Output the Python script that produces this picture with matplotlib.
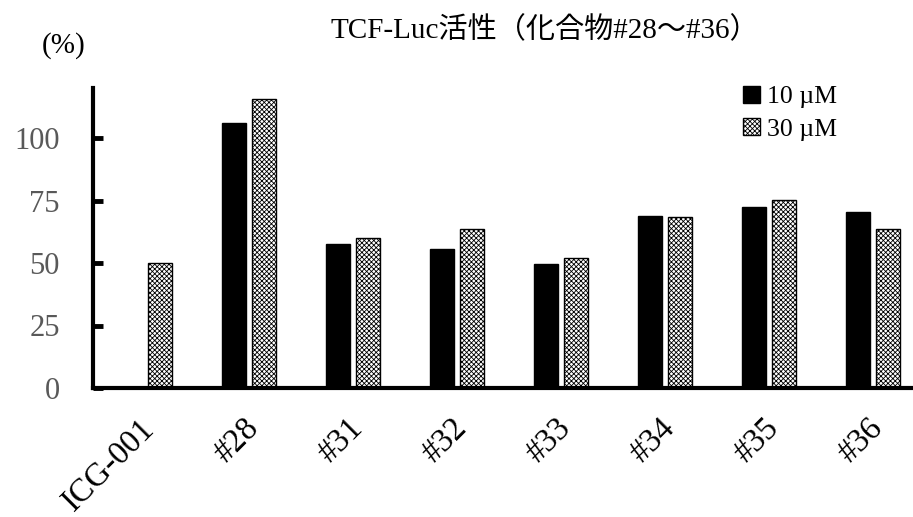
import matplotlib.pyplot as plt
import matplotlib as mpl
import matplotlib.transforms as mtransforms
import numpy as np

mpl.rcParams['hatch.linewidth'] = 0.6

categories = ['ICG-001', '#28', '#31', '#32', '#33', '#34', '#35', '#36']
vals_10 = [0, 106, 57.8, 55.8, 49.8, 68.7, 72.3, 70.3]
vals_30 = [50, 115.7, 60.2, 63.5, 52.2, 68.3, 75.1, 63.5]
yticks = [0, 25, 50, 75, 100]

serif = ['Liberation Serif', 'Noto Sans CJK JP', 'DejaVu Sans']

fig = plt.figure(figsize=(9.13, 5.17), dpi=100)
ax = fig.add_axes([93 / 913, 1 - 388 / 517, 832 / 913, 300 / 517])

x = np.arange(len(categories))
w = 0.235
off = 0.145
b10 = ax.bar(x - off, vals_10, w, color='black', edgecolor='black', linewidth=1, label='10 µM')
b30 = ax.bar(x + off, vals_30, w, color='white', edgecolor='black', hatch='xxxxxxx', linewidth=1, label='30 µM')

ax.set_xlim(-0.5, 7.5)
ax.set_ylim(0, 120)
ax.set_yticks(yticks)
ax.set_yticklabels([str(t) for t in yticks], family=serif, fontsize=22, color='#595959')
ax.tick_params(axis='y', direction='in', length=7, width=3.5, pad=24)
ax.set_xticks(x)
ax.set_xticklabels(categories, rotation=45, ha='right', rotation_mode='anchor',
                   family=serif, fontsize=23.5)
ax.tick_params(axis='x', length=0, pad=18)
shift = mtransforms.ScaledTranslation(-6 / 100, 0, fig.dpi_scale_trans)
for lbl in ax.get_xticklabels():
    lbl.set_transform(lbl.get_transform() + shift)

for s in ['top', 'right']:
    ax.spines[s].set_visible(False)
for s in ['left', 'bottom']:
    ax.spines[s].set_linewidth(3)

fig.text(545 / 913, 1 - 30 / 517, 'TCF-Luc活性（化合物#28～#36）', ha='center', va='center',
         family=serif, fontsize=21)
fig.text(64 / 913, 1 - 46 / 517, '(%)', ha='center', va='center', family=serif, fontsize=21)

leg = fig.legend(handles=[b10, b30], loc='upper left', bbox_to_anchor=(730 / 913, 1 - 73 / 517),
                 frameon=False, prop={'family': serif, 'size': 18.5}, handlelength=0.65,
                 handleheight=0.65, handletextpad=0.3, labelspacing=0.38, borderpad=0)

plt.savefig('out.png', dpi=100)
